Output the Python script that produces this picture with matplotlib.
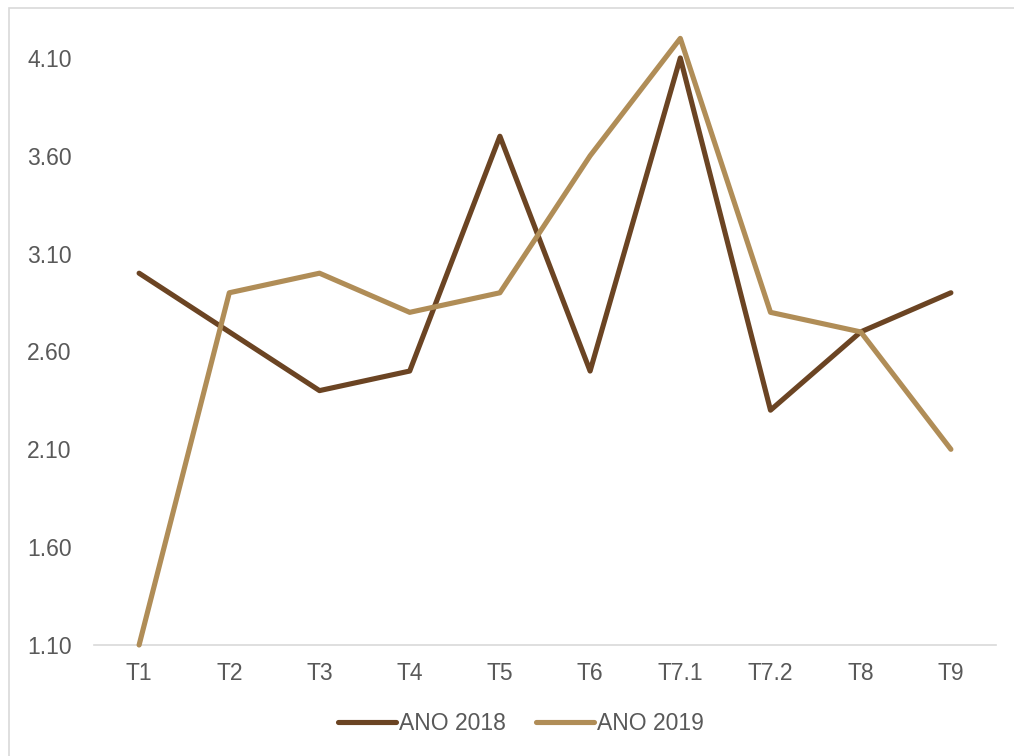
import matplotlib
matplotlib.use("Agg")
import matplotlib.pyplot as plt
from matplotlib.patches import Rectangle
import numpy as np

# trimestres e notas por ano
categorias = ["T1", "T2", "T3", "T4", "T5", "T6", "T7.1", "T7.2", "T8", "T9"]
ano_2018 = [3.0, 2.7, 2.4, 2.5, 3.7, 2.5, 4.1, 2.3, 2.7, 2.9]
ano_2019 = [1.1, 2.9, 3.0, 2.8, 2.9, 3.6, 4.2, 2.8, 2.7, 2.1]
yticks = [1.10, 1.60, 2.10, 2.60, 3.10, 3.60, 4.10]

plt.rcParams["font.family"] = ["Liberation Sans", "DejaVu Sans"]
cor_texto = "#595959"
tam = 16.5

fig = plt.figure(figsize=(10.14, 7.56), dpi=100)
ax = fig.add_axes([94 / 1014, 1 - 645 / 756, (996 - 94) / 1014, (645 - 28.6) / 756])

x = np.arange(len(categorias))
estilo = dict(lw=3.7, solid_capstyle="round", solid_joinstyle="round", clip_on=False)
ax.plot(x, ano_2018, color="#6B4423", label="ANO 2018", **estilo)
ax.plot(x, ano_2019, color="#B08D57", label="ANO 2019", **estilo)

ax.set_xlim(-0.5, len(categorias) - 0.5)
ax.set_ylim(1.10, 4.25)
ax.set_xticks(x)
ax.set_xticklabels(categorias)
ax.set_yticks(yticks)
ax.set_yticklabels([f"{v:.2f}" for v in yticks])
ax.tick_params(axis="both", length=0, labelsize=tam, colors=cor_texto)
ax.tick_params(axis="y", pad=16)
ax.tick_params(axis="x", pad=12)

for lado in ["top", "right", "left"]:
    ax.spines[lado].set_visible(False)
ax.spines["bottom"].set_color("#D9D9D9")
ax.spines["bottom"].set_linewidth(1.2)
ax.spines["bottom"].set_zorder(1)

leg = ax.legend(loc="center", bbox_to_anchor=(521 / 1014, 1 - 724 / 756),
                bbox_transform=fig.transFigure, ncol=2, frameon=False,
                fontsize=tam, handlelength=2.55, handletextpad=0.12,
                columnspacing=1.3, labelcolor=cor_texto)

# moldura da área do gráfico
fig.patches.append(Rectangle((9 / 1014, -0.05), 1.2, 1 - 8 / 756 + 0.05,
                             transform=fig.transFigure, fill=False,
                             edgecolor="#D9D9D9", lw=1.2))

fig.savefig("out.png", dpi=100)
